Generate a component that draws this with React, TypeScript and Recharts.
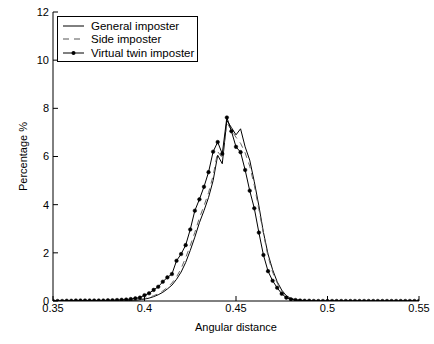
import { LineChart, Line, XAxis, YAxis, Label } from "recharts";

// angular distance bins (step 0.0025)
const distances = [
  0.35, 0.3525, 0.355, 0.3575, 0.36, 0.3625, 0.365, 0.3675, 0.37, 0.3725,
  0.375, 0.3775, 0.38, 0.3825, 0.385, 0.3875, 0.39, 0.3925, 0.395, 0.3975,
  0.4, 0.4025, 0.405, 0.4075, 0.41, 0.4125, 0.415, 0.4175, 0.42, 0.4225,
  0.425, 0.4275, 0.43, 0.4325, 0.435, 0.4375, 0.44, 0.4425, 0.445, 0.4475,
  0.45, 0.4525, 0.455, 0.4575, 0.46, 0.4625, 0.465, 0.4675, 0.47, 0.4725,
  0.475, 0.4775, 0.48, 0.4825, 0.485, 0.4875, 0.49, 0.4925, 0.495, 0.4975,
  0.5, 0.5025, 0.505, 0.5075, 0.51, 0.5125, 0.515, 0.5175, 0.52, 0.5225,
  0.525, 0.5275, 0.53, 0.5325, 0.535, 0.5375, 0.54, 0.5425, 0.545, 0.5475,
  0.55,
];

const general = [
  0, 0, 0, 0, 0, 0, 0, 0, 0, 0,
  0, 0, 0, 0, 0.01, 0.01, 0.01, 0.02, 0.03, 0.05,
  0.08, 0.12, 0.18, 0.26, 0.36, 0.5, 0.66, 0.9, 1.2, 1.6,
  2.1, 2.65, 3.25, 3.75, 4.3, 5.0, 6.05, 5.7, 7.5, 7.2,
  6.9, 7.15, 6.4, 5.85, 4.95, 3.95, 2.85, 1.95, 1.3, 0.8,
  0.45, 0.22, 0.1, 0.05, 0.03, 0.02, 0.01, 0.01, 0, 0,
  0, 0, 0, 0, 0, 0, 0, 0, 0, 0,
  0, 0, 0, 0, 0, 0, 0, 0, 0, 0,
  0,
];

const side = [
  0, 0, 0, 0, 0, 0, 0, 0, 0, 0,
  0, 0, 0, 0, 0.01, 0.01, 0.02, 0.03, 0.04, 0.06,
  0.1, 0.15, 0.22, 0.3, 0.42, 0.56, 0.75, 1.0, 1.35, 1.8,
  2.3, 2.85, 3.45, 3.95, 4.5, 5.2, 6.2, 5.95, 7.4, 7.1,
  6.8, 6.55, 6.15, 5.6, 4.8, 3.8, 2.8, 1.85, 1.2, 0.75,
  0.4, 0.2, 0.1, 0.05, 0.03, 0.02, 0.01, 0.01, 0, 0,
  0, 0, 0, 0, 0, 0, 0, 0, 0, 0,
  0, 0, 0, 0, 0, 0, 0, 0, 0, 0,
  0,
];

const twin = [
  0, 0, 0, 0.01, 0.01, 0.02, 0.02, 0.02, 0.02, 0.02,
  0.02, 0.02, 0.03, 0.03, 0.04, 0.05, 0.06, 0.08, 0.11, 0.14,
  0.24, 0.32, 0.46, 0.59, 0.8, 0.98, 1.12, 1.67, 1.95, 2.32,
  2.97, 3.75, 4.22, 4.74, 5.35, 6.2, 6.6, 6.11, 7.62, 7.05,
  6.4, 6.18, 5.44, 4.58, 3.85, 2.84, 1.91, 1.24, 0.84, 0.55,
  0.3, 0.14, 0.07, 0.04, 0.02, 0.01, 0.01, 0, 0, 0,
  0, 0, 0, 0, 0, 0, 0, 0, 0, 0,
  0, 0, 0, 0, 0, 0, 0, 0, 0, 0,
  0,
];

const xTicks = [0.35, 0.4, 0.45, 0.5, 0.55];
const yTicks = [0, 2, 4, 6, 8, 10, 12];

const data = distances.map((d, i) => ({
  x: d,
  general: general[i],
  side: side[i],
  twin: twin[i],
}));

const FONT = "Arial, 'Liberation Sans', Helvetica, sans-serif";
const tickStyle = { fill: "#000", fontSize: 11, fontFamily: FONT };

const legendItems = [
  { label: "General imposter", dash: undefined, dot: false, color: "#000" },
  { label: "Side imposter", dash: "6 5", dot: false, color: "#555" },
  { label: "Virtual twin imposter", dash: undefined, dot: true, color: "#000" },
];

const LegendBox = () => (
  <div
    style={{
      position: "absolute",
      left: 57,
      top: 16,
      width: 141,
      height: 46,
      border: "1px solid #000",
      background: "#fff",
      fontFamily: FONT,
      fontSize: 11.5,
      color: "#000",
      boxSizing: "border-box",
      padding: "2px 0 0 4px",
    }}
  >
    {legendItems.map((e) => (
      <div key={e.label} style={{ display: "flex", alignItems: "center", height: 13.5 }}>
        <svg width={24} height={8} style={{ marginRight: 5 }}>
          <line x1={1} y1={4} x2={22} y2={4} stroke={e.color} strokeWidth={1} strokeDasharray={e.dash} />
          {e.dot && <circle cx={11.5} cy={4} r={2} fill="#000" />}
        </svg>
        <span>{e.label}</span>
      </div>
    ))}
  </div>
);

export default function App() {
  return (
    <div style={{ position: "absolute", left: 0, top: 0, width: 434, height: 344, background: "#fff" }}>
      <LineChart width={434} height={344} data={data} margin={{ top: 12, right: 15, bottom: 0, left: 0 }}>
        <XAxis
          xAxisId="b"
          dataKey="x"
          type="number"
          domain={[0.35, 0.55]}
          ticks={xTicks}
          tickFormatter={(v) => String(v)}
          stroke="#000"
          tick={tickStyle}
          tickSize={-5}
          tickMargin={8}
          height={43}
          allowDataOverflow
        >
          <Label value="Angular distance" position="insideBottom" offset={13} style={{ fill: "#000", fontSize: 11, fontFamily: FONT }} />
        </XAxis>
        <XAxis
          xAxisId="t"
          orientation="top"
          dataKey="x"
          type="number"
          domain={[0.35, 0.55]}
          ticks={xTicks}
          tickFormatter={() => ""}
          stroke="#000"
          tickSize={-5}
          height={0}
        />
        <YAxis
          yAxisId="l"
          domain={[0, 12]}
          ticks={yTicks}
          stroke="#000"
          tick={tickStyle}
          tickSize={-5}
          tickMargin={9}
          width={53}
          allowDataOverflow
        >
          <Label value="Percentage %" angle={-90} position="insideLeft" offset={23} style={{ fill: "#000", fontSize: 11, fontFamily: FONT, textAnchor: "middle" }} />
        </YAxis>
        <YAxis
          yAxisId="r"
          orientation="right"
          domain={[0, 12]}
          ticks={yTicks}
          tickFormatter={() => ""}
          stroke="#000"
          tickSize={-5}
          width={0}
        />
        <Line xAxisId="b" yAxisId="l" dataKey="general" stroke="#000" strokeWidth={1} dot={false} isAnimationActive={false} />
        <Line xAxisId="b" yAxisId="l" dataKey="side" stroke="#666" strokeWidth={1} strokeDasharray="6 5" dot={false} isAnimationActive={false} />
        <Line
          xAxisId="b"
          yAxisId="l"
          dataKey="twin"
          stroke="#000"
          strokeWidth={1}
          dot={{ r: 1.8, fill: "#000", stroke: "#000", strokeWidth: 0.5 }}
          isAnimationActive={false}
        />
      </LineChart>
      <LegendBox />
    </div>
  );
}
